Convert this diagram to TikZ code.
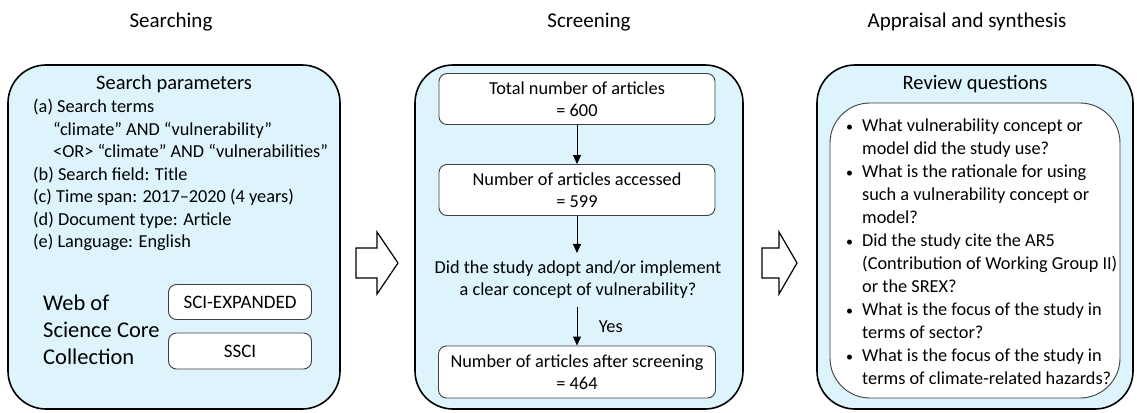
\documentclass[tikz,border=0pt]{standalone}
\usepackage{fontspec}
\setmainfont{Carlito}
\usetikzlibrary{positioning,arrows.meta}
\definecolor{paleblue}{RGB}{222,244,252}

\tikzset{
  stage/.style={draw=black, line width=1.6pt, fill=paleblue, rounded corners=38pt, inner sep=0pt},
  entry/.style={draw=black!75, line width=0.9pt, fill=white, rounded corners=8pt, inner sep=0pt, align=center, font=\fontsize{18.3}{22}\selectfont},
  txt/.style={anchor=west, inner sep=0pt, text height=13pt, text depth=4pt, font=\fontsize{18.3}{23}\selectfont},
  heading/.style={inner sep=0pt, font=\fontsize{21}{25}\selectfont},
  flow/.style={-{Triangle[width=8pt,length=9pt]}, line width=0.9pt},
  bigarrow/.style={draw=black, line width=1.2pt, fill=white, line join=miter},
}

\begin{document}
\begin{tikzpicture}[x=1pt, y=-1pt]
    \useasboundingbox (0,0) rectangle (1137,412);

    % column headings
    \node[heading] (hsearch) at (171,22) {Searching};
    \node[heading] (hscreen) at (589,22) {Screening};
    \node[heading] (hsynth) at (967,22) {Appraisal and synthesis};

    % outer boxes
    \node[stage, minimum width=332pt, minimum height=344pt] (searchbox) at (174,237) {};
    \node[stage, minimum width=328pt, minimum height=344pt] (screenbox) at (579,237) {};
    \node[stage, minimum width=316pt, minimum height=344pt] (synthbox) at (975,237) {};

    % block arrows between the stages
    \draw[bigarrow] (356,248) -- (377,248) -- (377,232) -- (398,263) -- (377,294) -- (377,278) -- (356,278) -- cycle;
    \draw[bigarrow] (762,248) -- (779,248) -- (779,232) -- (797,263) -- (779,294) -- (779,278) -- (762,278) -- cycle;

    % searching
    \node[inner sep=0pt, font=\fontsize{20.5}{24}\selectfont] (partitle) at (174,84) {Search parameters};
    \node[txt] (pa) at (33,108) {(a) Search terms};
    \node[txt] (pa1) at (53,130.5) {“climate” AND “vulnerability”};
    \node[txt] (pa2) at (53,153) {<OR> “climate” AND “vulnerabilities”};
    \node[txt] (pb) at (33,175.5) {(b) Search field: Title};
    \node[txt] (pc) at (33,198) {(c) Time span: 2017–2020 (4 years)};
    \node[txt] (pd) at (33,220.5) {(d) Document type: Article};
    \node[txt] (pe) at (33,243) {(e) Language: English};
    \node[anchor=west, inner sep=0pt, align=left, font=\fontsize{22.5}{27}\selectfont] (wos) at (43,330) {Web of\\Science Core\\Collection};
    \node[entry, font=\fontsize{19}{22}\selectfont, minimum width=143pt, minimum height=35pt] (sciexp) at (240,302) {SCI-EXPANDED};
    \node[entry, font=\fontsize{19}{22}\selectfont, minimum width=143pt, minimum height=36pt] (ssci) at (240,351) {SSCI};

    % screening
    \node[entry, minimum width=276pt, minimum height=51pt] (total) at (577,99) {Total number of articles\\= 600};
    \node[entry, minimum width=276pt, minimum height=51pt] (accessed) at (577,190) {Number of articles accessed\\= 599};
    \node[inner ysep=8pt, align=center, font=\fontsize{18.3}{22}\selectfont] (question) at (578,280) {Did the study adopt and/or implement\\a clear concept of vulnerability?};
    \node[entry, minimum width=277pt, minimum height=52pt] (screened) at (577,372) {Number of articles after screening\\= 464};
    \draw[flow] (total) -- (accessed);
    \draw[flow] (accessed.south) -- (accessed.south |- question.north);
    \draw[flow] (question.south -| screened.north) -- (screened.north) node[midway, right=18pt, font=\fontsize{18.3}{22}\selectfont] (yes) {Yes};

    % appraisal and synthesis
    \node[inner sep=0pt, font=\fontsize{20.5}{24}\selectfont] (revtitle) at (975,84) {Review questions};
    \node[draw=black!75, line width=0.9pt, fill=white, rounded corners=40pt, minimum width=290pt, minimum height=295pt] (questions) at (975,250.5) {};
    \node[txt, font=\fontsize{14}{23}\selectfont] (b1) at (846,127) {•};
    \node[txt] (q1) at (862,127) {What vulnerability concept or};
    \node[txt] (q1b) at (862,150) {model did the study use?};
    \node[txt, font=\fontsize{14}{23}\selectfont] (b2) at (846,173) {•};
    \node[txt] (q2) at (862,173) {What is the rationale for using};
    \node[txt] (q2b) at (862,196) {such a vulnerability concept or};
    \node[txt] (q2c) at (862,219) {model?};
    \node[txt, font=\fontsize{14}{23}\selectfont] (b3) at (846,242) {•};
    \node[txt] (q3) at (862,242) {Did the study cite the AR5};
    \node[txt] (q3b) at (862,265) {(Contribution of Working Group II)};
    \node[txt] (q3c) at (862,288) {or the SREX?};
    \node[txt, font=\fontsize{14}{23}\selectfont] (b4) at (846,311) {•};
    \node[txt] (q4) at (862,311) {What is the focus of the study in};
    \node[txt] (q4b) at (862,334) {terms of sector?};
    \node[txt, font=\fontsize{14}{23}\selectfont] (b5) at (846,357) {•};
    \node[txt] (q5) at (862,357) {What is the focus of the study in};
    \node[txt] (q5b) at (862,380) {terms of climate-related hazards?};
\end{tikzpicture}
\end{document}
